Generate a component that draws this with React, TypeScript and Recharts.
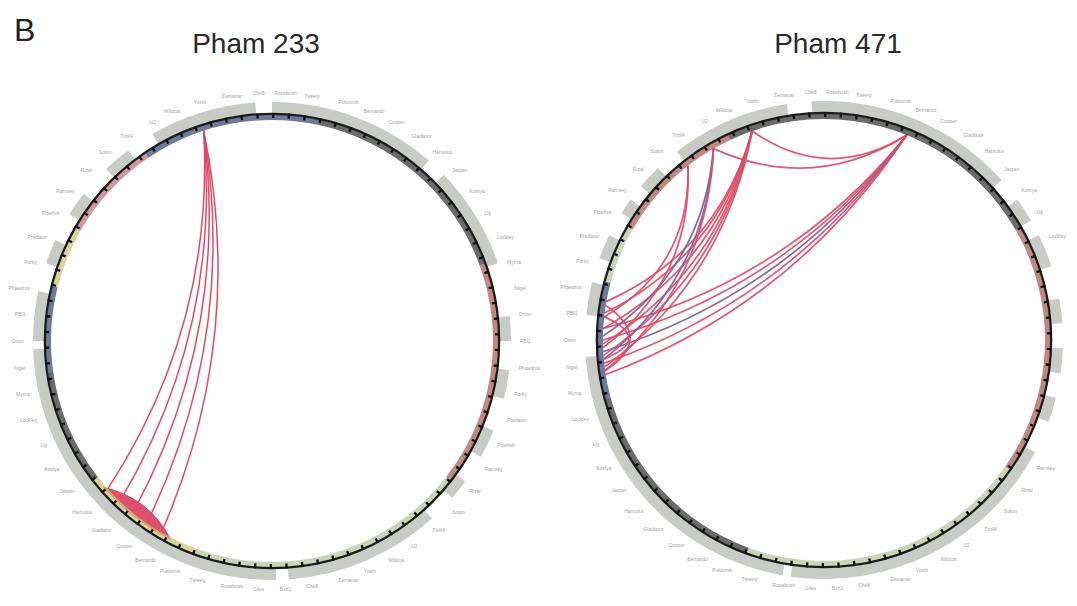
import React from 'react';
import { PieChart, Pie, Cell, Customized } from 'recharts';

const RAD = Math.PI / 180;

// circle layout (px) for the two phamilies
const circles = {
  left: { cx: 272, cy: 341, r: 221 },
  right: { cx: 824, cy: 340, r: 221 },
};

// gene blocks on the outer ring, degrees clockwise from 12 o'clock
const leftGenes = [[0, 41], [46, 71], [84, 90], [97, 104], [112, 119], [126, 131], [138, 176], [179, 268], [270, 282], [289, 295], [302, 308], [316, 323], [330, 356]];
const rightGenes = [[0, 48], [54, 60], [64, 72], [80, 86], [92, 98], [104, 110], [118, 188], [190, 266], [276, 284], [290, 296], [302, 306], [310, 316], [322, 351], [357, 360]];

// genome ideogram band under the ring: [start, end, kind]
const leftBand = [[0, 12, 'navy'], [12, 70, 'dark'], [70, 128, 'rust'], [128, 200, 'sage'], [200, 232, 'ochre'], [232, 262, 'dark'], [262, 284, 'navy'], [284, 300, 'ochre'], [300, 326, 'rose'], [326, 360, 'navy']];
const rightBand = [[0, 60, 'dark'], [60, 125, 'rust'], [125, 200, 'sage'], [200, 255, 'dark'], [255, 285, 'navy'], [285, 300, 'sage'], [300, 335, 'rust'], [335, 360, 'dark']];

// links between positions (degrees): [from, to, kind]
const leftLinks = [[342, 210, 'r'], [342, 214.5, 'r'], [342, 219, 'r'], [342, 223.5, 'r'], [342, 228, 'r']];
const leftRibbons = [[207, 229]];
const rightLinks = [
  [22, 341, 'r'], [22, 330, 'r'],
  [22, 261, 'r'], [22, 264, 'r'], [22, 267, 'p'], [22, 270, 'r'], [22, 273, 'r'],
  [341, 263, 'r'], [341, 266, 'r'], [341, 269, 'r'], [341, 273, 'r'], [341, 277, 'r'], [341, 280, 'r'],
  [330, 265, 'p'], [330, 271, 'p'], [330, 262, 'r'],
  [322, 268, 'r'], [322, 276, 'r'],
  [279, 262, 'r'], [276, 265, 'r'],
];

const phageNames = ['Rosebush', 'Tweety', 'Pukovnik', 'Bernardo', 'Cooper', 'Gladiator', 'Hamulus', 'Jasper', 'Kostya', 'Llij', 'Lockley', 'Myrna', 'Nigel', 'Orion', 'PBI1', 'Phaedrus', 'Porky', 'Predator', 'Pipefish', 'Ramsey', 'Rizal', 'Solon', 'Troll4', 'U2', 'Wildcat', 'Yoshi', 'Zemanar', 'Che8', 'Bxz1', 'Giles'];
const labelCount = 58;
// the right-hand circle runs into the page edge; no names drawn in this span
const rightQuiet = [66, 116];

const bandColors: Record<string, string> = {
  navy: '#3f4c78', dark: '#3a3a3a', rust: '#a8625a', sage: '#b9c4a2', ochre: '#cfc37a', rose: '#c07484',
};
const linkColors: Record<string, string> = { r: '#e04a66', p: '#7a5e98' };

const buildRing = (blocks: number[][]) => {
  const out: { value: number; on: boolean }[] = [];
  let pos = 0;
  blocks.forEach(([s, e]) => {
    if (s > pos) out.push({ value: s - pos, on: false });
    out.push({ value: e - s, on: true });
    pos = e;
  });
  if (pos < 360) out.push({ value: 360 - pos, on: false });
  return out;
};

const buildBand = (band: any[]) => band.map(([s, e, k]) => ({ value: e - s, kind: k }));

const ticks = Array.from({ length: 90 }, () => [{ value: 0.6, on: true }, { value: 3.4, on: false }]).flat();
const buildLabels = (quiet?: number[]) =>
  Array.from({ length: labelCount }, (_, i) => {
    const mid = ((i + 0.5) * 360) / labelCount;
    const hide = quiet && mid > quiet[0] && mid < quiet[1];
    return { value: 1, name: hide ? '' : phageNames[i % phageNames.length] };
  });

const pt = (c: any, deg: number, r: number) => [c.cx + r * Math.sin(deg * RAD), c.cy - r * Math.cos(deg * RAD)];

const chordPath = (c: any, a: number, b: number) => {
  let d = Math.abs(a - b) % 360;
  if (d > 180) d = 360 - d;
  let ux = Math.sin(a * RAD) + Math.sin(b * RAD);
  let uy = -Math.cos(a * RAD) - Math.cos(b * RAD);
  const n = Math.hypot(ux, uy) || 1;
  ux /= n; uy /= n;
  const k = Math.max(0, 1.114 * Math.cos((d / 2) * RAD) - 0.337);
  const [x1, y1] = pt(c, a, c.r);
  const [x2, y2] = pt(c, b, c.r);
  const qx = c.cx + k * c.r * ux;
  const qy = c.cy + k * c.r * uy;
  return `M${x1},${y1} Q${qx},${qy} ${x2},${y2}`;
};

const ribbonPath = (c: any, a: number, b: number) => {
  const [x1, y1] = pt(c, a, c.r + 2);
  const [x2, y2] = pt(c, b, c.r + 2);
  const [qx, qy] = pt(c, (a + b) / 2, c.r - 22);
  return `M${x1},${y1} A${c.r + 2},${c.r + 2} 0 0 1 ${x2},${y2} Q${qx},${qy} ${x1},${y1} Z`;
};

const Links = () => (
  <g>
    {leftRibbons.map(([a, b], i) => (
      <path key={`rb${i}`} d={ribbonPath(circles.left, a, b)} fill="#d8385a" fillOpacity={0.88} stroke="#cf3454" strokeWidth={0.8} />
    ))}
    {leftLinks.map(([a, b, k]: any, i) => (
      <path key={`l${i}`} d={chordPath(circles.left, a, b)} fill="none" stroke={linkColors[k]} strokeWidth={1.5} />
    ))}
    {rightLinks.map(([a, b, k]: any, i) => (
      <path key={`r${i}`} d={chordPath(circles.right, a, b)} fill="none" stroke={linkColors[k]} strokeWidth={1.7} strokeOpacity={0.92} />
    ))}
  </g>
);

const renderName = (p: any) => {
  if (!p.payload.name) return null;
  const a = -p.midAngle * RAD;
  const r = p.outerRadius + 5;
  const x = p.cx + r * Math.cos(a);
  const y = p.cy + r * Math.sin(a);
  const cs = Math.cos(a);
  const anchor = cs > 0.2 ? 'start' : cs < -0.2 ? 'end' : 'middle';
  return (
    <text key={`${p.index}-${p.cx}`} x={x} y={y} fontSize={5} fill="#a4a4a4" textAnchor={anchor} dominantBaseline="central" fontFamily="Liberation Sans, Arial, sans-serif">
      {p.payload.name}
    </text>
  );
};

const Circle = (c: any, genes: number[][], band: any[], id: string, quiet?: number[]) => {
  const ring = buildRing(genes);
  const bandData = buildBand(band);
  const labels = buildLabels(quiet);
  const common = { cx: c.cx, cy: c.cy, startAngle: 90, endAngle: -270, dataKey: 'value', stroke: 'none', isAnimationActive: false };
  return [
    <Pie key={`${id}-lab`} {...common} data={labels} innerRadius={238} outerRadius={243} label={renderName} labelLine={false}>
      {labels.map((_, i) => <Cell key={i} fill="transparent" />)}
    </Pie>,
    <Pie key={`${id}-gray`} {...common} data={ring} innerRadius={228} outerRadius={239}>
      {ring.map((d, i) => <Cell key={i} fill={d.on ? '#c9cbc7' : 'transparent'} />)}
    </Pie>,
    <Pie key={`${id}-band`} {...common} data={bandData} innerRadius={221} outerRadius={226.5}>
      {bandData.map((d, i) => <Cell key={i} fill={bandColors[d.kind]} fillOpacity={0.75} />)}
    </Pie>,
    <Pie key={`${id}-line`} {...common} data={[{ value: 1 }]} innerRadius={226} outerRadius={228.3} fill="#1c1c1c" />,
    <Pie key={`${id}-tick`} {...common} data={ticks} innerRadius={223} outerRadius={228}>
      {ticks.map((d, i) => <Cell key={i} fill={d.on ? '#111' : 'transparent'} />)}
    </Pie>,
  ];
};

export default function App() {
  return (
    <div style={{ position: 'absolute', left: 0, top: 0, width: 1077, height: 606, background: '#fff' }}>
      <PieChart width={1077} height={606} margin={{ top: 0, right: 0, bottom: 0, left: 0 }}>
        {Circle(circles.left, leftGenes, leftBand, 'L')}
        {Circle(circles.right, rightGenes, rightBand, 'R', rightQuiet)}
        <Customized component={Links} />
        <text x={14} y={41} fontSize={32} fill="#222" fontFamily="Liberation Sans, Arial, sans-serif">B</text>
        <text x={256} y={53} fontSize={28} fill="#2a2a2a" textAnchor="middle" fontFamily="Liberation Sans, Arial, sans-serif">Pham 233</text>
        <text x={838} y={53} fontSize={28} fill="#2a2a2a" textAnchor="middle" fontFamily="Liberation Sans, Arial, sans-serif">Pham 471</text>
      </PieChart>
    </div>
  );
}
